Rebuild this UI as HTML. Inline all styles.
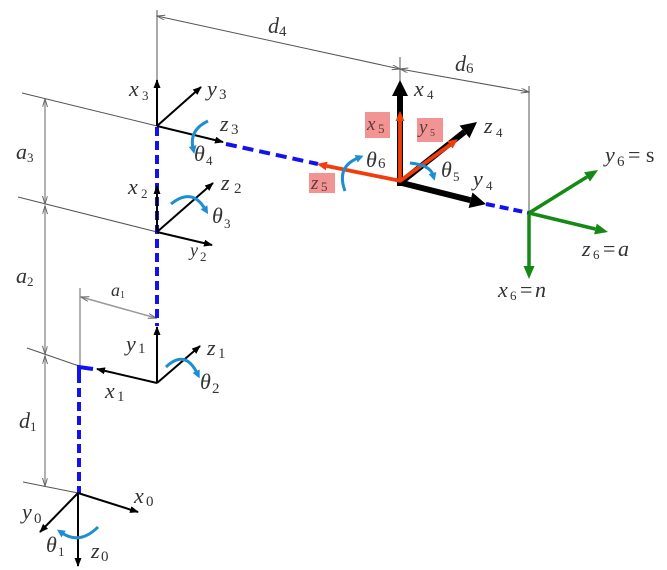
<!DOCTYPE html>
<html><head><meta charset="utf-8"><style>
html,body{margin:0;padding:0;background:#fff;}
svg{display:block;}
text{font-family:"Liberation Serif","DejaVu Serif",serif;font-style:italic;fill:#333;}
.m{font-size:22px;}
.s{font-size:13px;font-style:normal;}
</style></head><body>
<svg width="667" height="570" viewBox="0 0 667 570" xmlns="http://www.w3.org/2000/svg" font-family="Liberation Serif, serif">
<defs>
<marker id="ab" markerUnits="userSpaceOnUse" markerWidth="9" markerHeight="7" refX="8" refY="3.5" orient="auto"><path d="M0,0 L9,3.5 L0,7 z" fill="#000"/></marker>
<marker id="aB" markerUnits="userSpaceOnUse" markerWidth="17" markerHeight="17" refX="0" refY="8" orient="auto"><path d="M0,0 L16,8 L0,16 z" fill="#000"/></marker>
<marker id="ag" markerUnits="userSpaceOnUse" markerWidth="14" markerHeight="12" refX="0" refY="5.5" orient="auto"><path d="M0,0 L13,5.5 L0,11 z" fill="#148a14"/></marker>
<marker id="ar" markerUnits="userSpaceOnUse" markerWidth="11" markerHeight="10" refX="0" refY="4.5" orient="auto"><path d="M0,0 L10,4.5 L0,9 z" fill="#f23c0c"/></marker>
<marker id="au" markerUnits="userSpaceOnUse" markerWidth="9" markerHeight="9" refX="2" refY="4" orient="auto"><path d="M0,0 L8,4 L0,8 z" fill="#1e8ed2"/></marker>
<marker id="ad" markerUnits="userSpaceOnUse" markerWidth="9" markerHeight="6" refX="8" refY="2.5" orient="auto-start-reverse"><path d="M0,0 L8,2.5 L0,5" fill="none" stroke="#666" stroke-width="1"/></marker>
</defs>

<g stroke="#555" stroke-width="1" fill="none">
<line x1="157" y1="10" x2="157" y2="126"/>
<line x1="400" y1="57" x2="400" y2="82"/>
<line x1="529" y1="86" x2="529" y2="213"/>
<line x1="157" y1="16" x2="400" y2="69" marker-start="url(#ad)" marker-end="url(#ad)"/>
<line x1="400" y1="69" x2="529" y2="92" marker-start="url(#ad)" marker-end="url(#ad)"/>
<line x1="22" y1="93" x2="157" y2="126"/>
<line x1="18" y1="197" x2="157" y2="232"/>
<line x1="27" y1="348" x2="79" y2="366"/>
<line x1="23" y1="482" x2="78" y2="493"/>
</g>
<g stroke="#999" stroke-width="1.5" fill="none">
<line x1="45" y1="99" x2="45" y2="204" marker-start="url(#ad)" marker-end="url(#ad)"/>
<line x1="45" y1="206" x2="45" y2="354" marker-start="url(#ad)" marker-end="url(#ad)"/>
<line x1="45" y1="356" x2="45" y2="486" marker-start="url(#ad)" marker-end="url(#ad)"/>
<line x1="80" y1="288" x2="80" y2="366"/>
<line x1="81" y1="297" x2="156" y2="318" marker-start="url(#ad)" marker-end="url(#ad)"/>
</g>

<g stroke="#1212ee" stroke-width="4" fill="none">
<line x1="157" y1="127" x2="157" y2="326" stroke-dasharray="9 5"/>
<line x1="79" y1="374" x2="79" y2="493" stroke-dasharray="9 5"/>
<polyline points="79,374 79,367 93,369"/>
<line x1="226" y1="144" x2="318" y2="164" stroke-dasharray="11 6"/>
<line x1="486" y1="204" x2="529" y2="213" stroke-dasharray="9 5"/>
</g>

<g stroke="#000" stroke-width="2" fill="none" marker-end="url(#ab)">
<line x1="157" y1="126" x2="157" y2="80"/>
<line x1="157" y1="126" x2="201" y2="87"/>
<line x1="157" y1="126" x2="223" y2="142"/>
<line x1="157" y1="232" x2="157" y2="186"/>
<line x1="157" y1="232" x2="213" y2="183"/>
<line x1="157" y1="232" x2="212" y2="245"/>
<line x1="157" y1="383" x2="157" y2="327"/>
<line x1="157" y1="383" x2="200" y2="346"/>
<line x1="157" y1="383" x2="97" y2="369"/>
<line x1="78" y1="493" x2="138" y2="512"/>
<line x1="78" y1="493" x2="40" y2="532"/>
<line x1="78" y1="493" x2="78" y2="566"/>
</g>

<g stroke="#000" stroke-width="6" fill="none" marker-end="url(#aB)">
<line x1="400" y1="186" x2="400" y2="96"/>
<line x1="400" y1="183" x2="464.5" y2="131.9"/>
<line x1="398" y1="182" x2="470.5" y2="200.2"/>
</g>

<g stroke="#f23c0c" stroke-width="3.8" fill="none" marker-end="url(#ar)">
<line x1="400" y1="182" x2="400" y2="121"/>
<line x1="400" y1="181" x2="449.9" y2="144.9"/>
<line x1="401" y1="181" x2="326.8" y2="166"/>
</g>

<g stroke="#148a14" stroke-width="3.5" fill="none" marker-end="url(#ag)">
<line x1="529" y1="213" x2="587" y2="176.9"/>
<line x1="529" y1="213" x2="595.4" y2="229"/>
<line x1="529" y1="213" x2="529" y2="266"/>
</g>

<g stroke="#1e8ed2" stroke-width="3" fill="none" marker-end="url(#au)">
<path d="M208,121 Q189,130 193,148"/>
<path d="M171,204 Q192,187 205,209"/>
<path d="M166,367 Q185,349 197,373"/>
<path d="M98,527 Q80,545 62,533"/>
<path d="M345,191 Q336,167 358,158"/>
<path d="M410,163 Q430,165 433,175"/>
</g>

<g fill="#f29494">
<rect x="365" y="112" width="25" height="26"/>
<rect x="417" y="118" width="26" height="24"/>
<rect x="309" y="173" width="26" height="20"/>
</g>

<text class="m" x="129" y="96">x</text><text class="s" x="142" y="100">3</text>
<text class="m" x="207" y="96">y</text><text class="s" x="219" y="99" style="font-size:15px">3</text>
<text class="m" x="220" y="131">z</text><text class="s" x="231" y="134" style="font-size:15px">3</text>
<text class="m" x="194" y="161">θ</text><text class="s" x="206" y="165">4</text>
<text class="m" x="128" y="194">x</text><text class="s" x="141" y="198">2</text>
<text class="m" x="221" y="190">z</text><text class="s" x="234" y="193" style="font-size:15px">2</text>
<text class="m" x="212" y="223">θ</text><text class="s" x="224" y="228">3</text>
<text class="m" x="190" y="256" style="font-size:18px">y</text><text class="s" x="200" y="261">2</text>
<text class="m" x="111" y="296" style="font-size:18px">a</text><text class="s" x="120" y="298" style="font-size:10px">1</text>
<text class="m" x="126" y="351">y</text><text class="s" x="138" y="353" style="font-size:15px">1</text>
<text class="m" x="207" y="355">z</text><text class="s" x="218" y="358" style="font-size:15px">1</text>
<text class="m" x="200" y="389">θ</text><text class="s" x="212" y="393" style="font-size:15px">2</text>
<text class="m" x="105" y="398">x</text><text class="s" x="117" y="401" style="font-size:15px">1</text>
<text class="m" x="134" y="503">x</text><text class="s" x="146" y="506" style="font-size:15px">0</text>
<text class="m" x="22" y="519">y</text><text class="s" x="34" y="523" style="font-size:15px">0</text>
<text class="m" x="46" y="552">θ</text><text class="s" x="58" y="556">1</text>
<text class="m" x="91" y="558">z</text><text class="s" x="101" y="561" style="font-size:15px">0</text>
<text class="m" x="16" y="159">a</text><text class="s" x="27" y="162">3</text>
<text class="m" x="16" y="283">a</text><text class="s" x="27" y="286">2</text>
<text class="m" x="19" y="428">d</text><text class="s" x="30" y="431">1</text>
<text class="m" x="268" y="33">d</text><text class="s" x="279" y="36" style="font-size:15px">4</text>
<text class="m" x="455" y="71">d</text><text class="s" x="466" y="73" style="font-size:15px">6</text>
<text class="m" x="414" y="96">x</text><text class="s" x="427" y="99">4</text>
<text class="m" x="484" y="133">z</text><text class="s" x="496" y="137">4</text>
<text class="m" x="473" y="186">y</text><text class="s" x="486" y="190">4</text>
<text class="m" x="366" y="167">θ</text><text class="s" x="378" y="168" style="font-size:15px">6</text>
<text class="m" x="441" y="177">θ</text><text class="s" x="453" y="181">5</text>
<text class="m" x="367" y="130" style="font-size:19px;fill:#5a3a3a">x</text><text class="s" x="378" y="133" style="fill:#5a3a3a">5</text>
<text class="m" x="419" y="133" style="font-size:19px;fill:#5a3a3a">y</text><text class="s" x="430" y="136" style="fill:#5a3a3a;font-size:10px">5</text>
<text class="m" x="311" y="189" style="font-size:19px;fill:#5a3a3a">z</text><text class="s" x="321" y="191" style="fill:#5a3a3a">5</text>
<text class="m" x="605" y="162">y</text><text class="s" x="617" y="166" style="font-size:15px">6</text><text class="m" x="628" y="162" style="font-style:normal">= s</text>
<text class="m" x="582" y="256">z</text><text class="s" x="593" y="259">6</text><text class="m" x="603" y="256" style="font-style:normal">=</text><text class="m" x="618" y="256">a</text>
<text class="m" x="498" y="297">x</text><text class="s" x="510" y="300">6</text><text class="m" x="520" y="297" style="font-style:normal">=</text><text class="m" x="535" y="297">n</text>
</svg>
</body></html>
